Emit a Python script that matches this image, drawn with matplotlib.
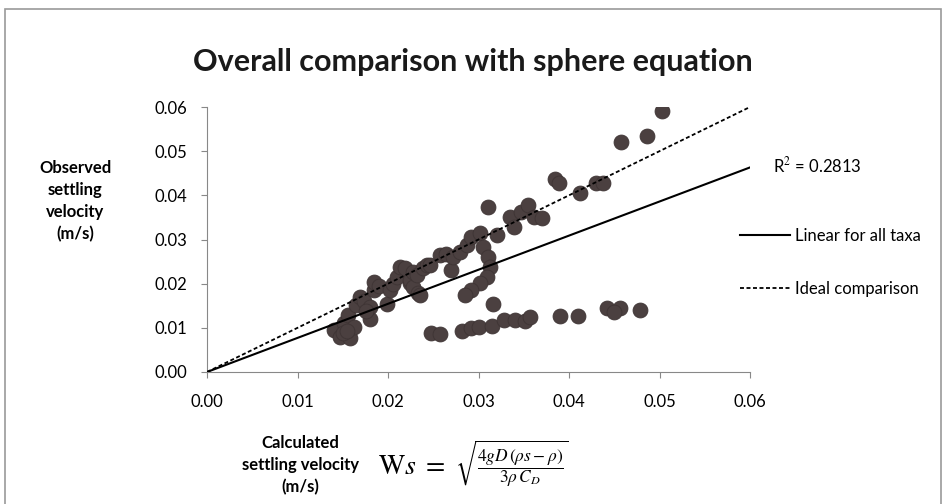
import numpy as np
import matplotlib.pyplot as plt
from matplotlib.patches import Rectangle

plt.rcParams['font.family'] = ['Lato', 'DejaVu Sans']
plt.rcParams['mathtext.fontset'] = 'stix'

# calculated (x) vs observed (y) settling velocity, m/s
calc_vel = [0.0140, 0.0147, 0.0151, 0.0156, 0.0158, 0.0162, 0.0150, 0.0155,
            0.0165, 0.0169, 0.0173, 0.0180, 0.0180, 0.0184, 0.0184, 0.0190, 0.0176,
            0.0199, 0.0202, 0.0206, 0.0210, 0.0213, 0.0219, 0.0224, 0.0224, 0.0228,
            0.0228, 0.0232, 0.0233, 0.0235, 0.0239, 0.0243, 0.0246, 0.0257, 0.0264,
            0.0270, 0.0272, 0.0280, 0.0287, 0.0292, 0.0302, 0.0305, 0.0311, 0.0313,
            0.0309, 0.0302, 0.0292, 0.0285, 0.0320, 0.0311, 0.0335, 0.0339, 0.0347,
            0.0355, 0.0361, 0.0370, 0.0384, 0.0389, 0.0412, 0.0430, 0.0438, 0.0457,
            0.0486, 0.0503,
            0.0316, 0.0247, 0.0257, 0.0282, 0.0292, 0.0300, 0.0315, 0.0328, 0.0340,
            0.0351, 0.0357, 0.0390, 0.0410, 0.0442, 0.0456, 0.0450, 0.0478]
obs_vel = [0.0095, 0.0080, 0.0110, 0.0129, 0.0076, 0.0102, 0.0088, 0.0092,
           0.0152, 0.0170, 0.0160, 0.0121, 0.0148, 0.0186, 0.0204, 0.0195, 0.0138,
           0.0155, 0.0186, 0.0200, 0.0216, 0.0238, 0.0235, 0.0201, 0.0208, 0.0227,
           0.0193, 0.0219, 0.0178, 0.0174, 0.0235, 0.0242, 0.0242, 0.0265, 0.0268,
           0.0231, 0.0261, 0.0272, 0.0287, 0.0306, 0.0314, 0.0283, 0.0261, 0.0238,
           0.0216, 0.0201, 0.0186, 0.0174, 0.0310, 0.0374, 0.0351, 0.0329, 0.0363,
           0.0378, 0.0351, 0.0348, 0.0436, 0.0428, 0.0406, 0.0427, 0.0428, 0.0520,
           0.0534, 0.0590,
           0.0155, 0.0088, 0.0086, 0.0093, 0.0099, 0.0101, 0.0104, 0.0118, 0.0118,
           0.0116, 0.0124, 0.0127, 0.0127, 0.0144, 0.0144, 0.0136, 0.0140]

fit_slope = 0.772   # linear fit through origin
r_squared = 0.2813
ticks = [0.00, 0.01, 0.02, 0.03, 0.04, 0.05, 0.06]

fig = plt.figure(figsize=(9.46, 5.04), dpi=100)
ax = fig.add_axes([207/946, 1-372/504, 543/946, 265/504])

line_x = np.array([0.0, 0.06])
fit_line, = ax.plot(line_x, fit_slope*line_x, color='black', lw=1.5, zorder=3)
ideal_line, = ax.plot(line_x, line_x, color='black', lw=1.3, ls=(0, (2.2, 1.4)), zorder=3)
ax.scatter(calc_vel, obs_vel, s=115, color='#4b4040', edgecolor='#3e3434', lw=0.6, zorder=2)

ax.set_xlim(0, 0.06)
ax.set_ylim(0, 0.06)
ax.set_xticks(ticks)
ax.set_yticks(ticks)
ax.set_xticklabels(['%.2f' % t for t in ticks], fontsize=12)
ax.set_yticklabels(['%.2f' % t for t in ticks], fontsize=12)
ax.tick_params(length=4, color='#888888', pad=10)
ax.tick_params(axis='x', pad=12)
for s in ['top', 'right']:
    ax.spines[s].set_visible(False)
for s in ['left', 'bottom']:
    ax.spines[s].set_color('#888888')

fig.text(473/946, 1-62/504, 'Overall comparison with sphere equation',
         ha='center', va='center', fontsize=22, fontweight='bold', color='#1a1a1a')
fig.text(75/946, 1-201/504, 'Observed\nsettling\nvelocity\n(m/s)', ha='center', va='center',
         fontsize=12, fontweight='bold', linespacing=1.45)
fig.text(300/946, 1-465/504, 'Calculated\nsettling velocity\n(m/s)', ha='center', va='center',
         fontsize=12, fontweight='bold', linespacing=1.45)

# sphere settling equation
fig.text(378/946, 1-466/504, r'$\mathrm{W}s\ =$', ha='left', va='center', fontsize=20)
fig.text(455/946, 1-464/504, r'$\sqrt{\dfrac{4gD\,(\rho s-\rho)}{3\rho\, C_D}}$',
         ha='left', va='center', fontsize=12.5)

fig.text(773/946, 1-165/504, 'R$^2$ = %.4f' % r_squared, ha='left', va='center', fontsize=12)
fig.legend([fit_line, ideal_line], ['Linear for all taxa', 'Ideal comparison'],
           loc='upper left', bbox_to_anchor=(740/946, 1-228/504), frameon=False,
           fontsize=12, handlelength=3.0, handletextpad=0.3, labelspacing=2.2,
           borderpad=0, borderaxespad=0)

fig.add_artist(Rectangle((5/946, -0.05), 936/946, 1.05 - 9/504, transform=fig.transFigure,
                         fill=False, edgecolor='#9a9a9a', lw=1.2))

fig.savefig('out.png', dpi=100)
